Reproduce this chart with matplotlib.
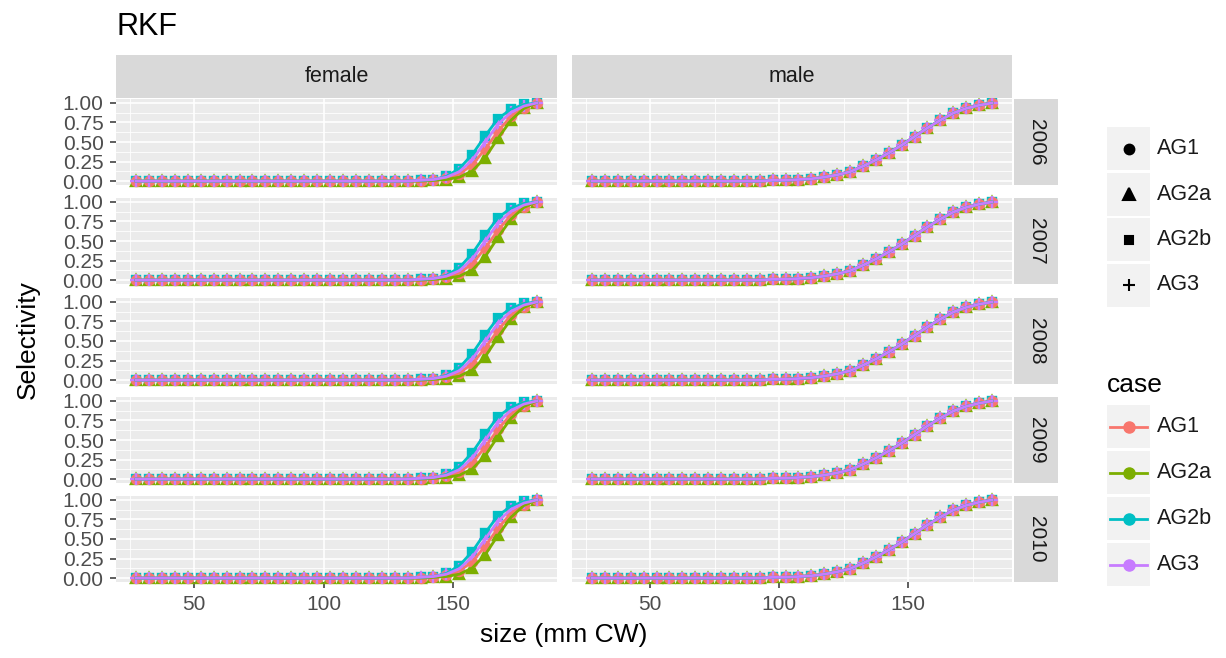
import matplotlib
matplotlib.use('Agg')
import matplotlib.pyplot as plt
from matplotlib.patches import Rectangle

plt.rcParams['font.family'] = ['Liberation Sans', 'DejaVu Sans']

# size classes (mm CW)
sizes = [27.5, 32.5, 37.5, 42.5, 47.5, 52.5, 57.5, 62.5, 67.5, 72.5,
         77.5, 82.5, 87.5, 92.5, 97.5, 102.5, 107.5, 112.5, 117.5, 122.5,
         127.5, 132.5, 137.5, 142.5, 147.5, 152.5, 157.5, 162.5, 167.5, 172.5,
         177.5, 182.5]

years = ['2006', '2007', '2008', '2009', '2010']
sexes = ['female', 'male']
cases = ['AG1', 'AG2a', 'AG2b', 'AG3']

# female selectivity per case (same for every year)
female_AG1 = [0.00, 0.00, 0.00, 0.00, 0.00, 0.00, 0.00, 0.00, 0.00, 0.00,
              0.00, 0.00, 0.00, 0.00, 0.00, 0.00, 0.00, 0.00, 0.00, 0.00,
              0.00, 0.00, 0.00, 0.01, 0.04, 0.09, 0.21, 0.41, 0.64, 0.83,
              0.94, 1.00]
female_AG2a = [0.00, 0.00, 0.00, 0.00, 0.00, 0.00, 0.00, 0.00, 0.00, 0.00,
               0.00, 0.00, 0.00, 0.00, 0.00, 0.00, 0.00, 0.00, 0.00, 0.00,
               0.00, 0.00, 0.00, 0.01, 0.02, 0.05, 0.13, 0.30, 0.55, 0.78,
               0.93, 1.00]
female_AG2b = [0.00, 0.00, 0.00, 0.00, 0.00, 0.00, 0.00, 0.00, 0.00, 0.00,
               0.00, 0.00, 0.00, 0.00, 0.00, 0.00, 0.00, 0.00, 0.00, 0.00,
               0.00, 0.00, 0.01, 0.02, 0.06, 0.16, 0.34, 0.58, 0.80, 0.92,
               0.98, 1.00]
female_AG3 = [0.00, 0.00, 0.00, 0.00, 0.00, 0.00, 0.00, 0.00, 0.00, 0.00,
              0.00, 0.00, 0.00, 0.00, 0.00, 0.00, 0.00, 0.00, 0.00, 0.00,
              0.00, 0.00, 0.01, 0.02, 0.05, 0.12, 0.27, 0.50, 0.73, 0.88,
              0.96, 1.00]
# male curves overlap for all cases
male_sel = [0.00, 0.00, 0.00, 0.00, 0.00, 0.00, 0.00, 0.00, 0.00, 0.00,
            0.00, 0.00, 0.00, 0.00, 0.01, 0.01, 0.02, 0.03, 0.05, 0.08,
            0.12, 0.19, 0.27, 0.36, 0.46, 0.57, 0.68, 0.78, 0.87, 0.93,
            0.97, 1.00]

sel = {
    'female': {'AG1': female_AG1, 'AG2a': female_AG2a,
               'AG2b': female_AG2b, 'AG3': female_AG3},
    'male': {'AG1': male_sel, 'AG2a': male_sel,
             'AG2b': male_sel, 'AG3': male_sel},
}

colors = {'AG1': '#F8766D', 'AG2a': '#7CAE00', 'AG2b': '#00BFC4', 'AG3': '#C77CFF'}
markers = {'AG1': 'o', 'AG2a': '^', 'AG2b': 's', 'AG3': '+'}
msizes = {'AG1': 6.5, 'AG2a': 7.5, 'AG2b': 5.5, 'AG3': 8}
point_order = ['AG2b', 'AG2a', 'AG1', 'AG3']

W, H = 1226, 658
fig = plt.figure(figsize=(W / 100, H / 100), dpi=100)


def box(x0, y0, x1, y1):
    # pixel box (top-left origin) -> figure fraction
    return [x0 / W, 1 - y1 / H, (x1 - x0) / W, (y1 - y0) / H]


cols = [(116, 557), (572, 1012)]
row_tops = [99, 198, 298, 397, 496]
row_h = 86

for i, yr in enumerate(years):
    for j, sex in enumerate(sexes):
        x0, x1 = cols[j]
        y0 = row_tops[i]
        ax = fig.add_axes(box(x0, y0, x1, y0 + row_h))
        ax.set_facecolor('#EBEBEB')
        for sp in ax.spines.values():
            sp.set_visible(False)
        ax.set_xlim(19.75, 190.25)
        ax.set_ylim(-0.05, 1.05)
        ax.set_xticks([50, 100, 150])
        ax.set_xticks([25, 75, 125, 175], minor=True)
        ax.set_yticks([0, 0.25, 0.5, 0.75, 1.0])
        ax.set_yticklabels(['0.00', '0.25', '0.50', '0.75', '1.00'])
        ax.set_yticks([0.125, 0.375, 0.625, 0.875], minor=True)
        ax.grid(which='major', color='white', lw=1.2)
        ax.grid(which='minor', color='white', lw=0.6)
        ax.set_axisbelow(True)
        ax.tick_params(which='minor', length=0)
        ax.tick_params(which='major', length=4, width=1.1, color='#333333',
                       labelsize=15, labelcolor='#4D4D4D', pad=5)
        if j > 0:
            ax.tick_params(axis='y', left=False, labelleft=False)
        if i < len(years) - 1:
            ax.tick_params(axis='x', bottom=False, labelbottom=False)

        # points first, lines over them
        for c in point_order:
            ax.plot(sizes, sel[sex][c], ls='none', marker=markers[c],
                    ms=msizes[c], mew=1.7, color=colors[c], zorder=3,
                    clip_on=False)
        for c in cases:
            ax.plot(sizes, sel[sex][c], color=colors[c], lw=2.0, zorder=4)

        # right strip
        if j == 1:
            sax = fig.add_axes(box(1014, y0, 1058, y0 + row_h))
            sax.set_facecolor('#D9D9D9')
            sax.set_xticks([]); sax.set_yticks([])
            for sp in sax.spines.values():
                sp.set_visible(False)
            sax.text(0.5, 0.5, yr, rotation=-90, ha='center', va='center',
                     fontsize=15, color='#1A1A1A', transform=sax.transAxes)

# top strips
for j, sex in enumerate(sexes):
    x0, x1 = cols[j]
    sax = fig.add_axes(box(x0, 55, x1, 98))
    sax.set_facecolor('#D9D9D9')
    sax.set_xticks([]); sax.set_yticks([])
    for sp in sax.spines.values():
        sp.set_visible(False)
    sax.text(0.5, 0.5, sex, ha='center', va='center', fontsize=15.5,
             color='#1A1A1A', transform=sax.transAxes)

fig.text(117 / W, 1 - 27 / H, 'RKF', fontsize=22, va='center', ha='left')
fig.text(564 / W, 1 - 635 / H, 'size (mm CW)', fontsize=19, ha='center', va='center')
fig.text(28 / W, 1 - 340 / H, 'Selectivity', fontsize=19, rotation=90,
         ha='center', va='center')

# legends drawn by hand in pixel coordinates
lax = fig.add_axes([0, 0, 1, 1], zorder=-1)
lax.set_xlim(0, W)
lax.set_ylim(H, 0)
lax.axis('off')

key_x0, key_w, key_h = 1107, 43, 43
for k, c in enumerate(cases):
    ky = 127 + k * 45.5
    lax.add_patch(Rectangle((key_x0, ky), key_w, key_h, color='#F2F2F2', lw=0))
    lax.plot([key_x0 + key_w / 2], [ky + key_h / 2], marker=markers[c],
             ms=msizes[c] + 0.5, mew=1.5, color='black', ls='none')
    lax.text(key_x0 + key_w + 7, ky + key_h / 2, c, fontsize=15.5, va='center',
             ha='left', color='#1A1A1A')

lax.text(key_x0, 385, 'case', fontsize=19, va='center', ha='left')
for k, c in enumerate(cases):
    ky = 405 + k * 46
    lax.add_patch(Rectangle((key_x0, ky), key_w, key_h, color='#F2F2F2', lw=0))
    lax.plot([key_x0 + 3, key_x0 + key_w - 3], [ky + key_h / 2] * 2,
             color=colors[c], lw=2.0)
    lax.plot([key_x0 + key_w / 2], [ky + key_h / 2], marker='o', ms=8,
             color=colors[c], ls='none')
    lax.text(key_x0 + key_w + 7, ky + key_h / 2, c, fontsize=15.5, va='center',
             ha='left', color='#1A1A1A')

fig.savefig('out.png', dpi=100)
